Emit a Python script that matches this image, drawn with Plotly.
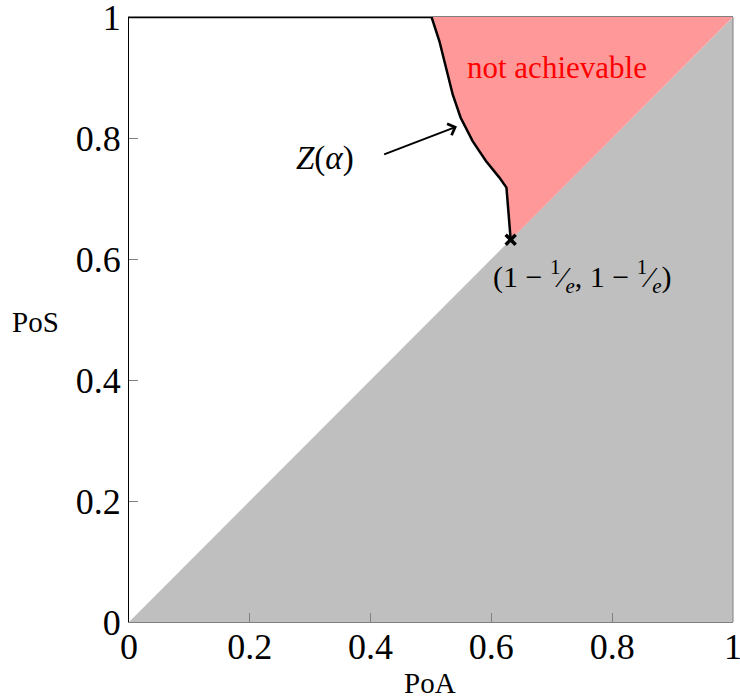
import plotly.graph_objects as go

# Z(alpha) boundary
curve_x = [0.0, 0.501, 0.514, 0.525, 0.536, 0.549, 0.569, 0.591, 0.613, 0.625, 0.628, 0.630, 0.632, 0.632]
curve_y = [1.0, 1.0, 0.960, 0.916, 0.872, 0.834, 0.795, 0.762, 0.735, 0.718, 0.685, 0.657, 0.641, 0.632]

# 1 - 1/e point
corner_x = [0.632]
corner_y = [0.632]

# impossible region PoS < PoA
grey_x = [0, 1, 1, 0]
grey_y = [0, 0, 1, 0]

tick_vals = [0, 0.2, 0.4, 0.6, 0.8, 1]
tick_text = ["0", "0.2", "0.4", "0.6", "0.8", "1"]

FONT = "Liberation Serif"

# red region: curve from the top line down to the corner, then up the diagonal
red_x = curve_x[1:] + [1.0, curve_x[1]]
red_y = curve_y[1:] + [1.0, curve_y[1]]

fig = go.Figure()
fig.add_trace(go.Scatter(x=grey_x, y=grey_y, fill="toself", fillcolor="#bfbfbf",
                         mode="none", hoverinfo="skip"))
fig.add_trace(go.Scatter(x=red_x, y=red_y, fill="toself", fillcolor="#ff9999",
                         mode="none", hoverinfo="skip"))
fig.add_trace(go.Scatter(x=curve_x, y=curve_y, mode="lines",
                         line=dict(color="black", width=2.5)))
fig.add_trace(go.Scatter(x=corner_x, y=corner_y, mode="markers",
                         marker=dict(symbol="x-thin", size=10,
                                     line=dict(color="black", width=3.5))))

fig.add_annotation(x=0.708, y=0.916, text="not achievable", showarrow=False,
                   font=dict(family=FONT, size=31, color="red"))
fig.add_annotation(x=0.324, y=0.767, text="<i>Z</i>(<i>α</i>)", showarrow=False,
                   font=dict(family=FONT, size=33, color="black"))
fig.add_annotation(x=0.543, y=0.819, ax=0.420, ay=0.772, xref="x", yref="y",
                   axref="x", ayref="y", text="", showarrow=True,
                   arrowhead=4, arrowsize=1.2, arrowwidth=2, arrowcolor="black")
fig.add_annotation(x=0.751, y=0.571,
                   text="(1 − <sup>1</sup>⁄<sub><i>e</i></sub>, 1 − <sup>1</sup>⁄<sub><i>e</i></sub>)",
                   showarrow=False, font=dict(family=FONT, size=30, color="black"))
fig.add_annotation(x=-0.154, y=0.496, xref="paper", yref="paper", text="PoS",
                   xanchor="center", yanchor="middle",
                   showarrow=False, font=dict(family=FONT, size=29, color="black"))
fig.add_annotation(x=0.498, y=-0.100, xref="paper", yref="paper", text="PoA",
                   xanchor="center", yanchor="middle",
                   showarrow=False, font=dict(family=FONT, size=29, color="black"))
# grey right frame
fig.add_shape(type="line", xref="paper", yref="paper", x0=1, x1=1, y0=0, y1=1,
              line=dict(color="#808080", width=1))

fig.update_xaxes(range=[0, 1.0001], tickvals=tick_vals, ticktext=tick_text,
                 showgrid=False, zeroline=False, showline=True, mirror=True,
                 linecolor="#808080", linewidth=1, ticks="inside", ticklen=9,
                 tickcolor="#808080", tickfont=dict(family=FONT, size=36, color="black"),
                 ticklabelstandoff=-7, automargin=False, ticklabeloverflow="allow")
fig.update_yaxes(range=[0, 1.0001], tickvals=tick_vals, ticktext=tick_text,
                 showgrid=False, zeroline=False, showline=True,
                 linecolor="black", linewidth=1, ticks="inside", ticklen=9,
                 tickcolor="#808080", tickfont=dict(family=FONT, size=36, color="black"),
                 ticklabelstandoff=0, automargin=False, ticklabeloverflow="allow")

fig.update_layout(width=740, height=698, showlegend=False,
                  plot_bgcolor="white", paper_bgcolor="white",
                  margin=dict(l=129, r=7, t=17, b=76))

# drop the default 8px body margin so the figure fills the window
fig.write_html("out.html", config={"displayModeBar": False},
               post_script="document.body.style.margin = '0';")
